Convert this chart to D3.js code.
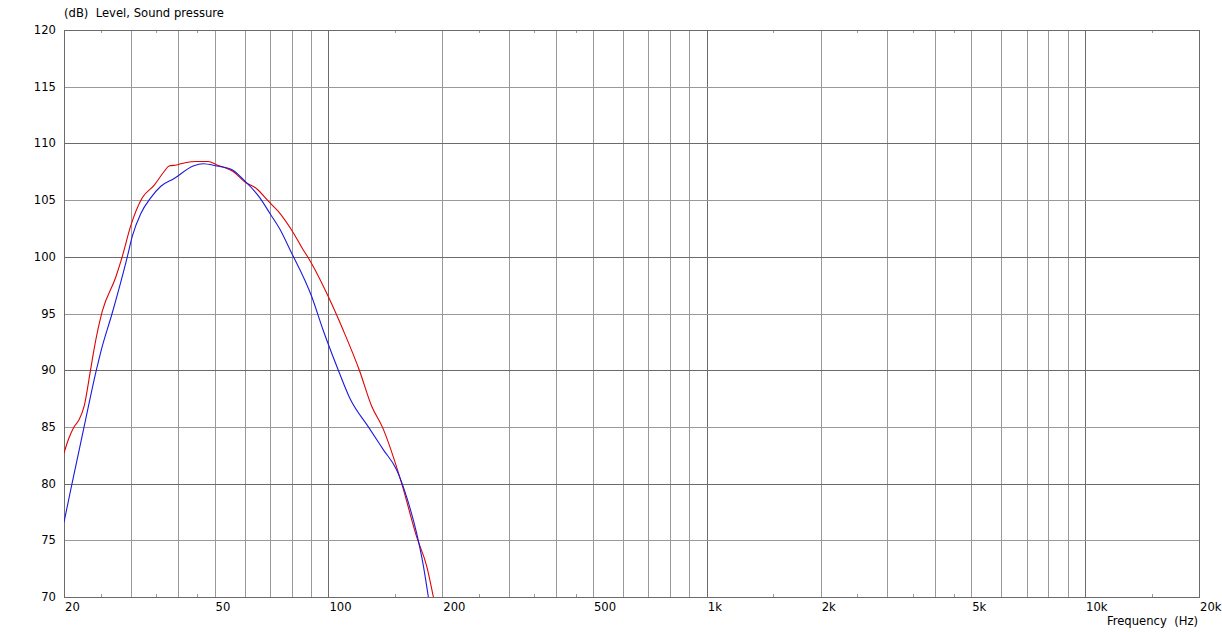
<!DOCTYPE html>
<html>
<head>
<meta charset="utf-8">
<script src="https://cdn.jsdelivr.net/npm/d3@7"></script>
<style>
  body { margin: 0; background: #fff; }
  text { font-family: "DejaVu Sans", Verdana, sans-serif; font-size: 11.6px; fill: #000; white-space: pre; }
</style>
</head>
<body>
<div id="chart"></div>
<script>
// Frequency response, two measurements
const redFreq = [20, 20.6, 21.25, 21.9, 22.6, 23.5, 24.0, 25.25, 27.4, 28.5, 30.0, 32.2, 34.6, 36.75, 37.9, 39.7, 41.8, 44.9, 48.1, 50.7, 56.1, 60.2, 64.6, 69.4, 73.7, 80.8, 85.8, 88.5, 99.9, 109.5, 120.7, 130.2, 138.8, 156.2, 171.1, 181.9, 189.4];
const redDb   = [82.7, 84.0, 85.0, 85.6, 86.8, 90.0, 91.8, 95.2, 98.2, 100.0, 102.7, 105.2, 106.3, 107.5, 108.0, 108.1, 108.3, 108.4, 108.4, 108.1, 107.5, 106.6, 106.0, 104.9, 104.0, 102.1, 100.6, 99.9, 96.5, 93.5, 90.0, 86.8, 85.0, 80.0, 75.3, 72.7, 70.0];

const blueFreq = [20, 21.0, 22.6, 24.35, 25.1, 26.8, 29.4, 30.3, 31.9, 33.9, 36.0, 39.1, 43.9, 46.7, 50.7, 55.5, 59.6, 65.9, 70.1, 74.5, 79.2, 90.3, 96.9, 106.2, 114.0, 127.5, 139.6, 151.5, 161.0, 171.1, 178.3, 183.7];
const blueDb   = [76.6, 80.0, 85.0, 90.0, 91.8, 95.0, 100.0, 101.8, 103.8, 105.2, 106.2, 106.9, 108.0, 108.2, 108.0, 107.7, 106.8, 105.2, 103.8, 102.4, 100.6, 96.5, 93.5, 90.0, 87.5, 85.0, 83.0, 81.2, 78.8, 75.6, 72.7, 70.0];

const xLabels = [20, 50, 100, 200, 500, 1000, 2000, 5000, 10000, 20000];
const xGridMinor = [30, 40, 50, 60, 70, 80, 90, 200, 300, 400, 500, 600, 700, 800, 900, 2000, 3000, 4000, 5000, 6000, 7000, 8000, 9000];
const xGridMajor = [100, 1000, 10000];
const xSmallTicks = [25, 35, 45, 150, 250, 350, 450, 1500, 2500, 3500, 4500, 15000];
const yLabels = [70, 75, 80, 85, 90, 95, 100, 105, 110, 115, 120];

const width = 1222, height = 632;
const margin = {top: 30, right: 23, bottom: 35, left: 64};

const x = d3.scaleLog().domain([20, 20000]).range([margin.left, width - margin.right]);
const y = d3.scaleLinear().domain([70, 120]).range([height - margin.bottom, margin.top]);

const fmt = d => d >= 1000 ? (d / 1000) + "k" : String(d);

const svg = d3.select("#chart").append("svg")
    .attr("width", width)
    .attr("height", height);

const grid = svg.append("g").attr("shape-rendering", "crispEdges");

grid.selectAll(".vminor").data(xGridMinor).join("line")
    .attr("x1", d => Math.round(x(d)) + 0.5).attr("x2", d => Math.round(x(d)) + 0.5)
    .attr("y1", y(120)).attr("y2", y(70))
    .attr("stroke", "#999");

grid.selectAll(".vmajor").data(xGridMajor).join("line")
    .attr("x1", d => Math.round(x(d)) + 0.5).attr("x2", d => Math.round(x(d)) + 0.5)
    .attr("y1", y(120)).attr("y2", y(70))
    .attr("stroke", "#6b6b6b");

grid.selectAll(".h").data(yLabels.slice(1, -1)).join("line")
    .attr("x1", x(20)).attr("x2", x(20000))
    .attr("y1", d => Math.round(y(d)) + 0.5).attr("y2", d => Math.round(y(d)) + 0.5)
    .attr("stroke", d => d % 10 === 0 ? "#6b6b6b" : "#999");

// small ticks top and bottom
grid.selectAll(".tb").data(xSmallTicks).join("line")
    .attr("x1", d => Math.round(x(d)) + 0.5).attr("x2", d => Math.round(x(d)) + 0.5)
    .attr("y1", y(70) - 3).attr("y2", y(70))
    .attr("stroke", "#999");
grid.selectAll(".tt").data(xSmallTicks).join("line")
    .attr("x1", d => Math.round(x(d)) + 0.5).attr("x2", d => Math.round(x(d)) + 0.5)
    .attr("y1", y(120)).attr("y2", y(120) + 3)
    .attr("stroke", "#999");

grid.append("rect")
    .attr("x", x(20) + 0.5).attr("y", y(120) + 0.5)
    .attr("width", x(20000) - x(20)).attr("height", y(70) - y(120))
    .attr("fill", "none").attr("stroke", "#6b6b6b");

svg.append("clipPath").attr("id", "clip").append("rect")
    .attr("x", x(20)).attr("y", y(120))
    .attr("width", x(20000) - x(20)).attr("height", y(70) - y(120) + 1);

const line = d3.line().curve(d3.curveMonotoneX).x(d => x(d[0])).y(d => y(d[1]));

svg.append("path")
    .datum(d3.zip(redFreq, redDb))
    .attr("clip-path", "url(#clip)")
    .attr("fill", "none").attr("stroke", "#e00000").attr("stroke-width", 1.1)
    .attr("d", line);

svg.append("path")
    .datum(d3.zip(blueFreq, blueDb))
    .attr("clip-path", "url(#clip)")
    .attr("fill", "none").attr("stroke", "#1a1ae0").attr("stroke-width", 1.1)
    .attr("d", line);

// axes labels
svg.append("g").selectAll("text").data(yLabels).join("text")
    .attr("x", 56).attr("y", d => y(d)).attr("dy", "0.35em")
    .attr("text-anchor", "end")
    .text(d => d);

svg.append("g").selectAll("text").data(xLabels).join("text")
    .attr("x", d => x(d) + 1).attr("y", 611)
    .attr("text-anchor", "start")
    .text(fmt);

svg.append("text")
    .attr("x", 1198).attr("y", 625)
    .attr("text-anchor", "end")
    .text("Frequency  (Hz)");

svg.append("text")
    .attr("x", 64).attr("y", 17)
    .text("(dB)  Level, Sound pressure");
</script>
</body>
</html>
